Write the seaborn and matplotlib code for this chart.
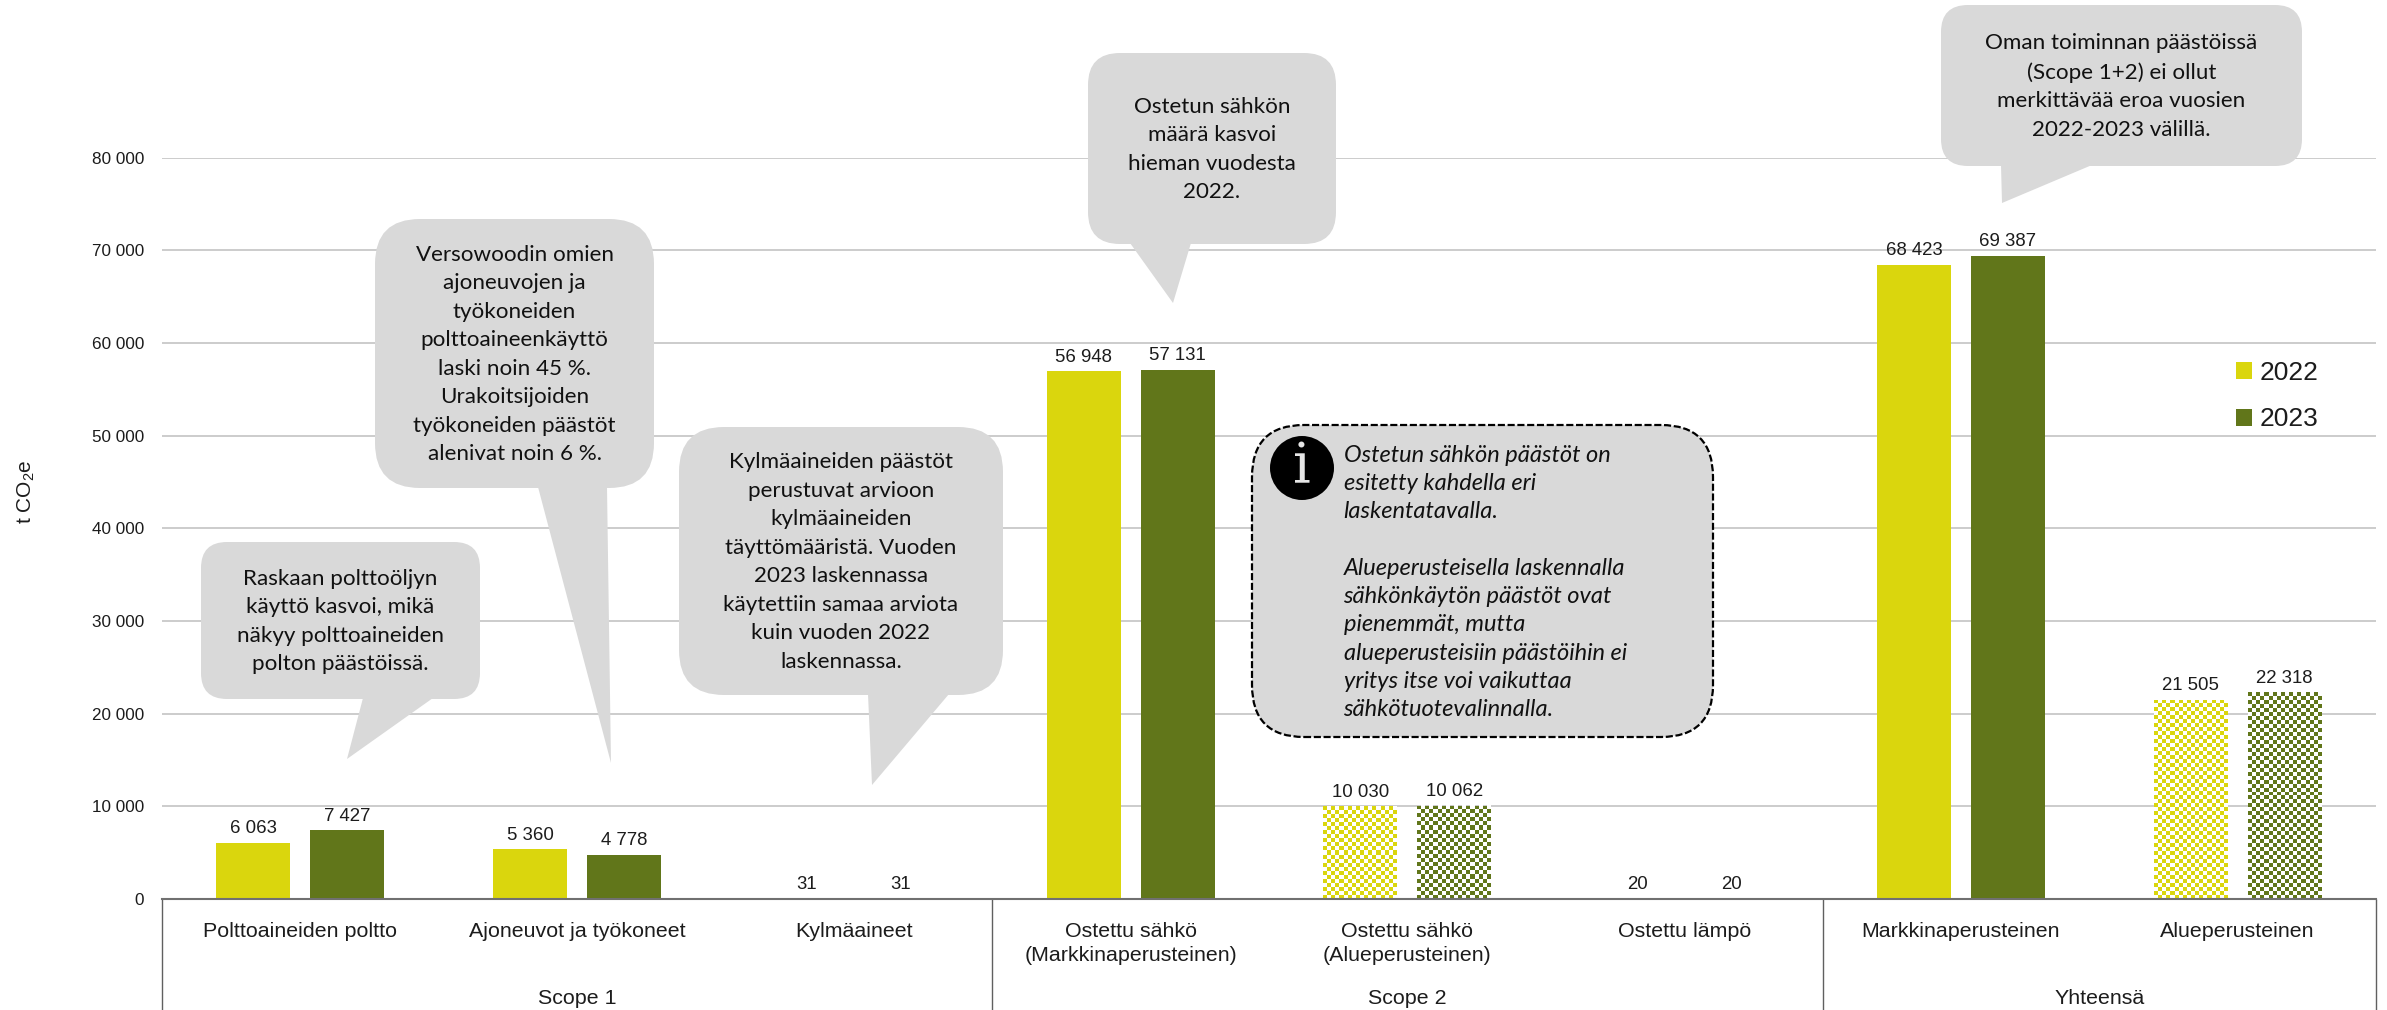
import matplotlib.pyplot as plt
import numpy as np
import pandas as pd
import seaborn as sns
from matplotlib.patches import Circle, FancyBboxPatch, Polygon
from matplotlib.transforms import IdentityTransform

categories = [
    "Polttoaineiden poltto",
    "Ajoneuvot ja työkoneet",
    "Kylmäaineet",
    "Ostettu sähkö\n(Markkinaperusteinen)",
    "Ostettu sähkö\n(Alueperusteinen)",
    "Ostettu lämpö",
    "Markkinaperusteinen",
    "Alueperusteinen",
]
values_2022 = [6063, 5360, 31, 56948, 10030, 20, 68423, 21505]
values_2023 = [7427, 4778, 31, 57131, 10062, 20, 69387, 22318]
hatched_categories = [4, 7]
group_labels = ["Scope 1", "Scope 2", "Yhteensä"]
group_sizes = [3, 3, 2]
y_ticks = list(range(0, 80001, 10000))

note_fuel = "Raskaan polttoöljyn\nkäyttö kasvoi, mikä\nnäkyy polttoaineiden\npolton päästöissä."
note_vehicles = (
    "Versowoodin omien\najoneuvojen ja\ntyökoneiden\npolttoaineenkäyttö\n"
    "laski noin 45 %.\nUrakoitsijoiden\ntyökoneiden päästöt\nalenivat noin 6 %."
)
note_refrigerants = (
    "Kylmäaineiden päästöt\nperustuvat arvioon\nkylmäaineiden\ntäyttömääristä. Vuoden\n"
    "2023 laskennassa\nkäytettiin samaa arviota\nkuin vuoden 2022\nlaskennassa."
)
note_electricity = "Ostetun sähkön\nmäärä kasvoi\nhieman vuodesta\n2022."
note_total = "Oman toiminnan päästöissä\n(Scope 1+2) ei ollut\nmerkittävää eroa vuosien\n2022-2023 välillä."
note_info = (
    "Ostetun sähkön päästöt on\nesitetty kahdella eri\nlaskentatavalla.\n\n"
    "Alueperusteisella laskennalla\nsähkönkäytön päästöt ovat\npienemmät, mutta\n"
    "alueperusteisiin päästöihin ei\nyritys itse voi vaikuttaa\nsähkötuotevalinnalla."
)

WIDTH, HEIGHT = 2387, 1010
LEFT, RIGHT, BASE, TOP = 162, 2376, 899, 157.7
YELLOW, GREEN = "#DAD60D", "#61761A"
BUBBLE = "#D9D9D9"
INK = "#1C1C1C"
CHECK_PX = 4


def fmt(value):
    return f"{value:,}".replace(",", " ")


def bubble(fig, x0, y0, x1, y1, radius, tail, text):
    # pixel boxes, measured from the top left of the picture
    box = FancyBboxPatch(
        (x0, HEIGHT - y1),
        x1 - x0,
        y1 - y0,
        boxstyle=f"round,pad=0,rounding_size={radius}",
        facecolor=BUBBLE,
        edgecolor="none",
        transform=IdentityTransform(),
        zorder=1,
    )
    fig.add_artist(box)
    points = [(x, HEIGHT - y) for x, y in tail]
    fig.add_artist(
        Polygon(points, facecolor=BUBBLE, edgecolor="none", transform=IdentityTransform(), zorder=1)
    )
    fig.text(
        (x0 + x1) / 2 / WIDTH,
        1 - ((y0 + y1) / 2 + 1) / HEIGHT,
        text,
        ha="center",
        va="center",
        fontsize=16.1,
        family="Lato",
        color="#111111",
        linespacing=1.53,
        zorder=3,
    )


sns.set_theme(style="whitegrid")
plt.rcParams["font.family"] = ["Liberation Sans", "DejaVu Sans"]
plt.rcParams["mathtext.default"] = "regular"

df = pd.DataFrame(
    {
        "category": categories * 2,
        "value": values_2022 + values_2023,
        "year": ["2022"] * len(categories) + ["2023"] * len(categories),
    }
)

fig = plt.figure(figsize=(WIDTH / 100, HEIGHT / 100), dpi=100, facecolor="white")
ax = fig.add_axes(
    [LEFT / WIDTH, 1 - BASE / HEIGHT, (RIGHT - LEFT) / WIDTH, (BASE - TOP) / HEIGHT]
)
sns.barplot(
    data=df,
    x="category",
    y="value",
    hue="year",
    palette=[YELLOW, GREEN],
    width=0.679,
    gap=0.213,
    saturation=1,
    linewidth=0,
    ax=ax,
)

ax.set_xlim(-0.5, len(categories) - 0.5)
ax.set_ylim(0, 80000)
ax.set_xlabel("")
ax.set_ylabel("t CO$_2$e", fontsize=15, color=INK)
ax.yaxis.set_label_coords((28 - LEFT) / (RIGHT - LEFT) + 0.004, (BASE - 492) / (BASE - TOP))
ax.set_yticks(y_ticks, [fmt(t) for t in y_ticks])
ax.tick_params(axis="y", length=0, pad=13, labelsize=12.3, labelcolor=INK)
ax.tick_params(axis="x", length=0, pad=16.4, labelsize=15.4, labelcolor=INK)
for label in ax.get_xticklabels():
    label.set_linespacing(1.38)
ax.grid(axis="x", visible=False)
ax.grid(axis="y", color="#BFBFBF", linewidth=1.1)
for side in ["left", "right", "top"]:
    ax.spines[side].set_visible(False)
ax.spines["bottom"].set_color("#707070")
ax.spines["bottom"].set_linewidth(1.5)

for container in ax.containers:
    ax.bar_label(
        container,
        labels=[fmt(int(v)) for v in container.datavalues],
        padding=4,
        fontsize=13.4,
        color=INK,
    )

# Checker fill of the location based bars: white cells over the bar colour
fig.canvas.draw()
for container in ax.containers:
    for index in hatched_categories:
        bar = container.patches[index]
        x0, y0 = bar.get_x(), bar.get_y()
        x1, y1 = x0 + bar.get_width(), y0 + bar.get_height()
        (px0, py0), (px1, py1) = ax.transData.transform([(x0, y0), (x1, y1)])
        rows = int(round((py1 - py0) / CHECK_PX))
        cols = int(round((px1 - px0) / CHECK_PX))
        mask = np.zeros((rows, cols, 4))
        mask[..., :3] = 1
        mask[..., 3] = np.indices((rows, cols)).sum(axis=0) % 2
        ax.imshow(mask, extent=(x0, x1, y0, y1), aspect="auto", interpolation="nearest", zorder=2)
ax.set_xlim(-0.5, len(categories) - 0.5)
ax.set_ylim(0, 80000)

# Two level category axis
to_axes = lambda y_px: (BASE - y_px) / (BASE - TOP)
edges = np.cumsum([0] + group_sizes) - 0.5
ax.vlines(
    edges,
    to_axes(HEIGHT + 2),
    0,
    transform=ax.get_xaxis_transform(),
    colors="#606060",
    linewidth=1,
    clip_on=False,
)
for start, end, label in zip(edges[:-1], edges[1:], group_labels):
    ax.text(
        (start + end) / 2,
        to_axes(999),
        label,
        transform=ax.get_xaxis_transform(),
        ha="center",
        va="center",
        fontsize=15.4,
        color=INK,
        clip_on=False,
    )

handles, labels = ax.get_legend_handles_labels()
ax.legend(
    handles,
    labels,
    loc="upper left",
    bbox_to_anchor=(2236 / WIDTH, 1 - 361 / HEIGHT),
    bbox_transform=fig.transFigure,
    frameon=False,
    fontsize=19,
    labelcolor=INK,
    handlelength=0.61,
    handleheight=0.61,
    handletextpad=0.3,
    labelspacing=0.85,
    borderpad=0,
    borderaxespad=0,
)

bubble(fig, 201, 542, 480, 699, 26, [(363, 698), (433, 698), (347, 759)], note_fuel)
bubble(fig, 375, 219, 654, 488, 45, [(538, 487), (607, 487), (611, 763)], note_vehicles)
bubble(fig, 679, 427, 1003, 695, 45, [(868, 694), (949, 694), (872, 785)], note_refrigerants)
bubble(fig, 1088, 53, 1336, 244, 32, [(1130, 243), (1191, 243), (1173, 303)], note_electricity)
bubble(fig, 1941, 5, 2302, 166, 27, [(2001, 165), (2092, 165), (2002, 203)], note_total)

# Info box with dashed outline
fig.add_artist(
    FancyBboxPatch(
        (1252, HEIGHT - 737),
        1713 - 1252,
        737 - 425,
        boxstyle="round,pad=0,rounding_size=52",
        facecolor=BUBBLE,
        edgecolor="black",
        linewidth=1.6,
        linestyle=(0, (3.2, 1.2)),
        transform=IdentityTransform(),
        zorder=1,
    )
)
fig.add_artist(
    Circle((1302, HEIGHT - 468), 32, facecolor="black", edgecolor="none", transform=IdentityTransform(), zorder=2)
)
fig.text(
    1302 / WIDTH,
    1 - 468 / HEIGHT,
    "i",
    ha="center",
    va="center",
    fontsize=40,
    family="DejaVu Serif",
    color="#E6E6E6",
    zorder=3,
)
fig.text(
    1343.5 / WIDTH,
    1 - 582.5 / HEIGHT,
    note_info,
    ha="left",
    va="center",
    fontsize=17,
    family="Lato",
    style="italic",
    color="#111111",
    linespacing=1.43,
    zorder=3,
)

fig.savefig("out.png", dpi=100)
